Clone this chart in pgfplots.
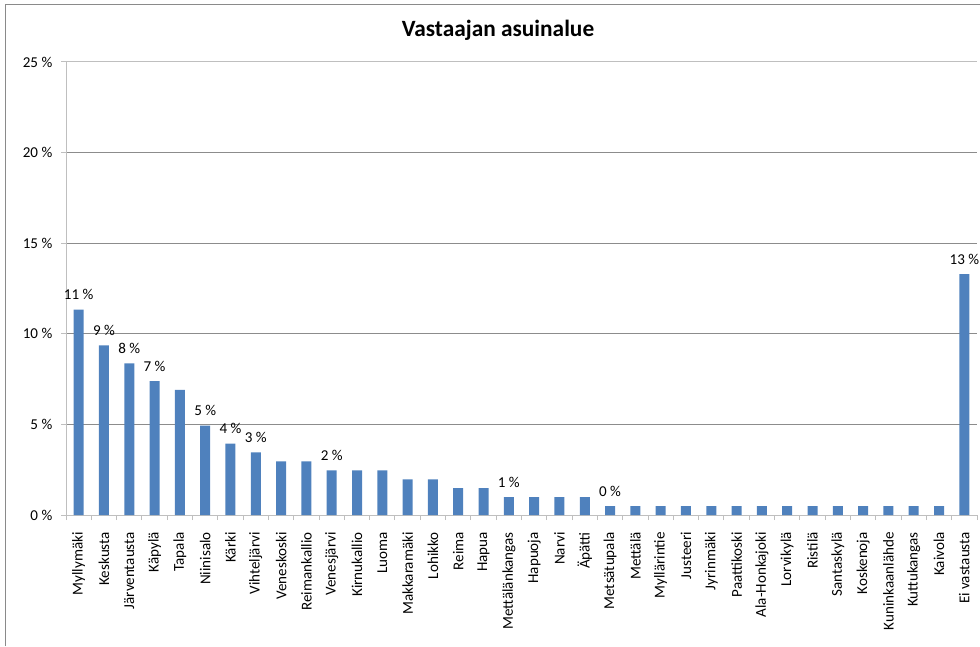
\documentclass[border=0pt]{standalone}
\usepackage{pgfplots}
\pgfplotsset{compat=1.18}
\usepackage{fontspec}
\setmainfont{Carlito}

\definecolor{barblue}{HTML}{4F81BD}
\definecolor{gridgray}{HTML}{8C8C8C}
\definecolor{axisgray}{HTML}{BFBFBF}
\definecolor{framegray}{HTML}{8A8A8A}

\newcommand{\tickfont}{\fontsize{11.3}{13}\selectfont}

\begin{document}
\begin{tikzpicture}
\useasboundingbox (0,0) rectangle (735pt,484.5pt);
\draw[framegray, line width=0.75pt] (3.75pt,0) -- (3.75pt,480.75pt) -- (735pt,480.75pt);
\node[font=\bfseries\fontsize{17.5}{20}\selectfont] at (373.5pt,461.6pt) {Vastaajan asuinalue};

\begin{axis}[
    at={(49.5pt,98.25pt)}, anchor=south west,
    scale only axis, width=683.25pt, height=339.75pt,
    xmin=-0.5, xmax=35.5, ymin=0, ymax=25,
    axis lines*=left,
    axis line style={draw=axisgray, line width=0.75pt},
    ymajorgrids, grid style={gridgray, line width=0.75pt},
    ytick={0,5,10,15,20},
    yticklabels={0 \%,5 \%,10 \%,15 \%,20 \%},
    extra y ticks={25}, extra y tick labels={25 \%},
    extra y tick style={grid style={axisgray, line width=0.75pt}},
    xtick={0,...,35},
    minor xtick={-0.5,0.5,...,35.5},
    tick align=outside,
    major tick length=3.75pt, minor tick length=3.75pt,
    tick style={draw=axisgray, line width=0.75pt},
    major x tick style={draw=none},
    ticklabel style={font=\tickfont, text=black},
    xticklabel style={rotate=90, anchor=east, inner sep=0pt},
    xticklabel shift=9pt,
    yticklabel shift=3pt,
    xticklabels={Myllymäki,Keskusta,Järventausta,Käpylä,Tapala,Niinisalo,Kärki,Vihteljärvi,Veneskoski,Reimankallio,Venesjärvi,Kirnukallio,Luoma,Makkaramäki,Lohikko,Reima,Hapua,Mettälänkangas,Hapuoja,Narvi,Äpätti,Metsätupala,Mettälä,Myllärintie,Justeeri,Jyrinmäki,Paattikoski,Ala-Honkajoki,Lorvikylä,Ristilä,Santaskylä,Koskenoja,Kuninkaanlähde,Kuttukangas,Kaivola,Ei vastausta},
    clip=false,
]
\addplot[ybar, bar width=7.5pt, fill=barblue, draw=none] coordinates {
(0,11.33) (1,9.36) (2,8.37) (3,7.39) (4,6.90) (5,4.93) (6,3.94) (7,3.45)
(8,2.96) (9,2.96) (10,2.46) (11,2.46) (12,2.46) (13,1.97) (14,1.97)
(15,1.48) (16,1.48) (17,0.99) (18,0.99) (19,0.99) (20,0.99)
(21,0.49) (22,0.49) (23,0.49) (24,0.49) (25,0.49) (26,0.49) (27,0.49)
(28,0.49) (29,0.49) (30,0.49) (31,0.49) (32,0.49) (33,0.49) (34,0.49)
(35,13.30)
};
\addplot[draw=none, mark=none, nodes near coords, point meta=explicit symbolic,
  every node near coord/.append style={font=\tickfont, text=black, anchor=base, yshift=7.3pt}]
coordinates {
(0,11.33)[11 \%] (1,9.36)[9 \%] (2,8.37)[8 \%] (3,7.39)[7 \%] (5,4.93)[5 \%]
(6,3.94)[4 \%] (7,3.45)[3 \%] (10,2.46)[2 \%] (17,0.99)[1 \%] (21,0.49)[0 \%]
(35,13.30)[13 \%]
};
\end{axis}
\end{tikzpicture}
\end{document}
